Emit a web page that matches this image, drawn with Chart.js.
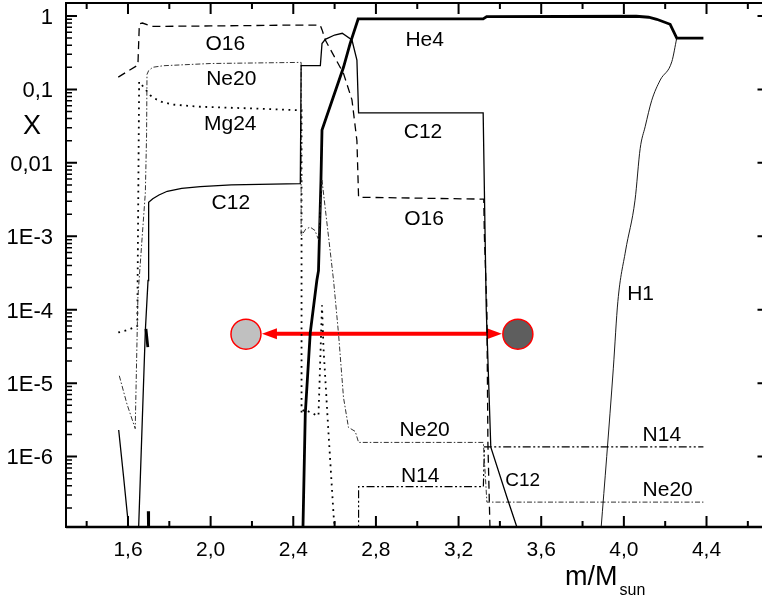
<!DOCTYPE html>
<html>
<head>
<meta charset="utf-8">
<script src="https://cdn.jsdelivr.net/npm/chart.js@4.4.0/dist/chart.umd.min.js"></script>
<style>
  html, body { margin: 0; padding: 0; background: #fff; overflow: hidden; }
  #wrap { width: 775px; height: 598px; }
</style>
</head>
<body>
<div id="wrap"><canvas id="abundance-chart" width="775" height="598"></canvas></div>
<script>
// pairs of [m/Msun, mass fraction X]; a null X breaks the curve
const h1Profile = [
  [3.889, 1.0e-7], [3.917, 1.0e-6], [3.949, 1.6e-5], [3.971, 1.3e-4],
  [4.008, 6.3e-4], [4.054, 3.1e-3], [4.079, 1.57e-2], [4.103, 3.1e-2],
  [4.135, 7.1e-2], [4.176, 0.134], [4.232, 0.238], [4.256, 0.50]
];
const he4Profile = [
  [1.687, 5.5e-5], [1.696, 3.1e-5], [1.697, null],
  [1.698, 1.8e-7], [1.700, 8e-8], [1.8, null],
  [2.445, 8e-8], [2.447, 1.1e-7], [2.458, 3.8e-6], [2.482, 4.8e-5], [2.514, 2.5e-4],
  [2.522, 3.4e-4], [2.534, 5.8e-3], [2.539, 0.028], [2.643, 0.2], [2.675, 0.42],
  [2.714, 0.91], [3.319, 0.91], [3.336, 0.98], [4.06, 0.99], [4.12, 0.96],
  [4.159, 0.90], [4.224, 0.77], [4.256, 0.50], [4.385, 0.50]
];
const c12Profile = [
  [1.555, 2.3e-6], [1.579, 5.2e-7], [1.603, 1.1e-7], [1.606, 8e-8], [1.62, null],
  [1.650, 8e-8], [1.684, 5.2e-5], [1.697, 2.5e-4], [1.700, 2.9e-3], [1.72, 3.25e-3],
  [1.75, 3.65e-3], [1.79, 4.1e-3], [1.86, 4.5e-3], [1.95, 4.75e-3], [2.10, 5.0e-3],
  [2.434, 5.2e-3], [2.438, 0.21],
  [2.531, 0.21], [2.539, 0.42], [2.555, 0.48], [2.60, 0.55], [2.637, 0.58],
  [2.684, 0.47], [2.708, 0.25], [2.716, 0.048], [3.319, 0.048], [3.334, 1e-4],
  [3.356, 1.34e-6], [3.434, 2.8e-7], [3.482, 1.1e-7], [3.49, 9e-8]
];
const o16Profile = [
  [1.553, 0.147], [1.648, 0.214], [1.655, 0.78], [1.67, 0.80], [1.716, 0.72],
  [2.0, 0.73], [2.40, 0.75], [2.530, 0.75], [2.539, 0.65], [2.555, 0.47],
  [2.643, 0.165], [2.684, 0.072], [2.708, 0.020], [2.716, 3.4e-3], [3.322, 3.2e-3],
  [3.325, 1e-3], [3.337, 1e-4], [3.342, 1.5e-6], [3.353, 8e-8]
];
const ne20Profile = [
  [1.558, 1.26e-5], [1.595, 5.2e-6], [1.635, 2.4e-6], [1.648, 1.5e-4],
  [1.684, 3.9e-3], [1.690, 0.024], [1.692, 0.16], [1.700, 0.18], [1.72, 0.20],
  [1.772, 0.21], [2.0, 0.225], [2.434, 0.233], [2.438, 0.233], [2.438, 1.0e-3],
  [2.46, 1.25e-3], [2.482, 1.33e-3], [2.505, 1.2e-3], [2.522, 9e-4], [2.539, 5.8e-3],
  [2.595, 2.5e-4], [2.619, 4.7e-5], [2.643, 6.4e-6], [2.667, 2.5e-6],
  [2.700, 2.2e-6], [2.716, 1.56e-6], [3.320, 1.56e-6], [3.337, 2.4e-7],
  [4.385, 2.4e-7]
];
const mg24Profile = [
  [1.553, 4.9e-5], [1.60, 5.3e-5], [1.645, 6.0e-5], [1.654, 0.127],
  [1.708, 0.083], [1.73, 0.075], [1.76, 0.068], [1.82, 0.062], [1.95, 0.058],
  [2.2, 0.055], [2.434, 0.052], [2.440, 0.052], [2.440, 3.8e-6], [2.452, 4.4e-6],
  [2.517, 3.6e-6], [2.522, 3.6e-6], [2.539, 1.15e-4], [2.546, 3.1e-5],
  [2.570, 2.2e-6], [2.595, 1.6e-7], [2.606, 8e-8]
];
const n14Profile = [
  [2.716, 8e-8], [2.716, 3.9e-7], [3.320, 3.9e-7], [3.325, 1.36e-6], [4.385, 1.36e-6]
];

// the two marked positions joined by the red arrow
const transferMarkers = [[2.171, 4.65e-5], [3.487, 4.65e-5]];

const xMajorTicks = [1.6, 2.0, 2.4, 2.8, 3.2, 3.6, 4.0, 4.4];
const xTickLabels = ["1,6", "2,0", "2,4", "2,8", "3,2", "3,6", "4,0", "4,4"];
const xMinorTicks = [1.4, 1.8, 2.2, 2.6, 3.0, 3.4, 3.8, 4.2, 4.6];
const yMajorTicks = [1, 0.1, 0.01, 1e-3, 1e-4, 1e-5, 1e-6];
const yTickLabels = ["1", "0,1", "0,01", "1E-3", "1E-4", "1E-5", "1E-6"];

// [text, m/Msun, X, font size]
const curveLabels = [
  ["O16", 2.071, 0.434, 21], ["Ne20", 2.100, 0.143, 21], ["Mg24", 2.095, 0.0358, 21],
  ["C12", 2.098, 3.0e-3, 21], ["He4", 3.036, 0.486, 21], ["C12", 3.028, 0.0272, 21],
  ["O16", 3.033, 1.78e-3, 21], ["H1", 4.081, 1.69e-4, 21], ["Ne20", 3.036, 2.43e-6, 21],
  ["N14", 3.014, 5.65e-7, 21], ["C12", 3.510, 4.98e-7, 19], ["N14", 4.184, 2.08e-6, 21],
  ["Ne20", 4.212, 3.70e-7, 21]
];

const FONT = "'Liberation Sans', Arial, sans-serif";
const toPoints = arr => arr.map(([m, x]) => ({ x: m, y: x }));

function profile(data, width, dash, color) {
  return {
    data: toPoints(data),
    borderColor: color || "#000",
    borderWidth: width,
    borderDash: dash || [],
    pointRadius: 0,
    fill: false,
  };
}

const h1Line = profile(h1Profile, 0.9);
h1Line.cubicInterpolationMode = "monotone";

const datasets = [
  h1Line,
  profile(c12Profile, 1.3),
  profile(o16Profile, 1.3, [8, 5]),
  profile(ne20Profile, 1, [5, 2, 1.5, 2], "#333"),
  profile(mg24Profile, 1.8, [1.8, 4.6]),
  profile(n14Profile, 1.2, [8, 2.5, 2, 2.5, 2, 2.5]),
  profile(he4Profile, 2.8),
  {
    data: toPoints(transferMarkers),
    showLine: false,
    pointRadius: 15,
    pointHoverRadius: 15,
    pointBackgroundColor: ["#c0c0c0", "#5e5e5e"],
    pointBorderColor: "#ff0000",
    pointBorderWidth: 1.5,
  },
];
const markerIndex = datasets.length - 1;

function arrowHead(ctx, tipX, y, dir) {
  ctx.beginPath();
  ctx.moveTo(tipX, y);
  ctx.lineTo(tipX + dir * 15, y - 5.5);
  ctx.lineTo(tipX + dir * 15, y + 5.5);
  ctx.closePath();
  ctx.fill();
}

const axesAndText = {
  id: "axesAndText",
  beforeDatasetDraw(chart, args) {
    if (args.index !== markerIndex) return;
    const pts = chart.getDatasetMeta(markerIndex).data;
    const ctx = chart.ctx;
    const y = (pts[0].y + pts[1].y) / 2 - 0.5;
    const left = pts[0].x + 16, right = pts[1].x - 16;
    ctx.save();
    ctx.strokeStyle = "#ff0000";
    ctx.fillStyle = "#ff0000";
    ctx.lineWidth = 4;
    ctx.beginPath();
    ctx.moveTo(left + 12, y);
    ctx.lineTo(right - 12, y);
    ctx.stroke();
    arrowHead(ctx, left, y, 1);
    arrowHead(ctx, right, y, -1);
    ctx.restore();
  },
  afterDraw(chart) {
    const ctx = chart.ctx;
    const area = chart.chartArea;
    const xs = chart.scales.x, ys = chart.scales.y;
    ctx.save();
    ctx.strokeStyle = "#000";
    ctx.fillStyle = "#000";
    ctx.lineWidth = 2;
    ctx.strokeRect(area.left, area.top, area.right - area.left, area.bottom - area.top);
    ctx.lineWidth = 2.6;
    ctx.beginPath();
    ctx.moveTo(area.left, area.bottom);
    ctx.lineTo(area.right, area.bottom);
    ctx.stroke();

    // x ticks, bottom and top, pointing inward
    ctx.lineWidth = 2;
    ctx.beginPath();
    xMajorTicks.forEach(v => {
      const px = xs.getPixelForValue(v);
      ctx.moveTo(px, area.bottom); ctx.lineTo(px, area.bottom - 11);
      ctx.moveTo(px, area.top); ctx.lineTo(px, area.top + 11);
    });
    xMinorTicks.forEach(v => {
      const px = xs.getPixelForValue(v);
      ctx.moveTo(px, area.bottom); ctx.lineTo(px, area.bottom - 6);
      ctx.moveTo(px, area.top); ctx.lineTo(px, area.top + 6);
    });
    // y ticks: majors both sides, log minors on the left
    yMajorTicks.forEach(v => {
      const py = ys.getPixelForValue(v);
      ctx.moveTo(area.left, py); ctx.lineTo(area.left + 11, py);
      ctx.moveTo(area.right, py); ctx.lineTo(area.right - 11, py);
    });
    ctx.stroke();
    ctx.lineWidth = 1.5;
    ctx.beginPath();
    for (let d = -7; d <= 0; d++) {
      for (let k = 2; k <= 9; k++) {
        const v = k * Math.pow(10, d);
        if (v < ys.min || v > ys.max) continue;
        const py = ys.getPixelForValue(v);
        ctx.moveTo(area.left, py); ctx.lineTo(area.left + 6, py);
      }
    }
    ctx.stroke();

    // tick labels
    ctx.font = "21px " + FONT;
    ctx.textBaseline = "alphabetic";
    ctx.textAlign = "center";
    xMajorTicks.forEach((v, i) => {
      ctx.fillText(xTickLabels[i], xs.getPixelForValue(v), 556);
    });
    ctx.font = "22px " + FONT;
    ctx.textAlign = "right";
    yMajorTicks.forEach((v, i) => {
      ctx.fillText(yTickLabels[i], 53, ys.getPixelForValue(v) + 7.8);
    });

    // axis titles
    ctx.font = "27px " + FONT;
    ctx.textAlign = "center";
    ctx.fillText("X", 32, 134);
    ctx.textAlign = "left";
    ctx.fillText("m/M", 565, 585);
    const w = ctx.measureText("m/M").width;
    ctx.font = "16px " + FONT;
    ctx.fillText("sun", 565 + w + 2, 595);

    // curve labels
    ctx.textAlign = "center";
    curveLabels.forEach(([text, m, x, size]) => {
      ctx.font = size + "px " + FONT;
      ctx.fillText(text, xs.getPixelForValue(m), ys.getPixelForValue(x) + size * 0.358);
    });
    ctx.restore();
  },
};

new Chart(document.getElementById("abundance-chart"), {
  type: "line",
  data: { datasets: datasets },
  options: {
    responsive: false,
    animation: false,
    devicePixelRatio: 1,
    layout: { autoPadding: false, padding: { left: 66, right: 6.5, top: 3, bottom: 71 } },
    plugins: { legend: { display: false }, tooltip: { enabled: false } },
    elements: { line: { tension: 0 } },
    scales: {
      x: { type: "linear", min: 1.3, max: 4.7, display: false },
      y: { type: "logarithmic", min: 1.1e-7, max: 1.5, display: false },
    },
  },
  plugins: [axesAndText],
});
</script>
</body>
</html>
